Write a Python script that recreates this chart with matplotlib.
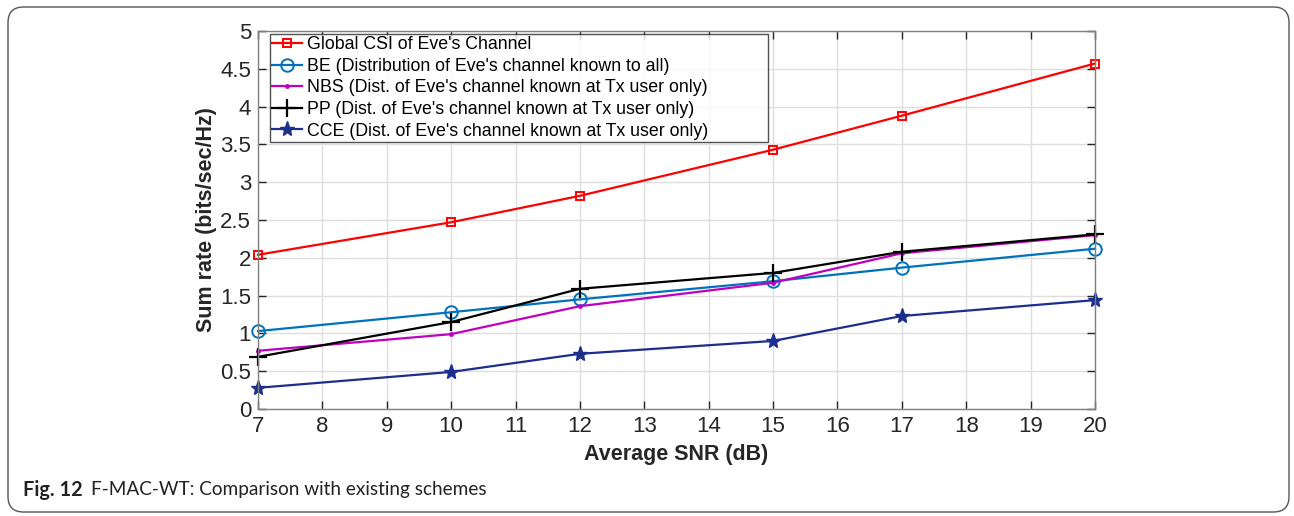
import matplotlib.pyplot as plt
from matplotlib.patches import FancyBboxPatch

# SNR points and sum rate of each scheme
snr = [7, 10, 12, 15, 17, 20]
global_csi = [2.04, 2.47, 2.82, 3.43, 3.88, 4.57]
be = [1.03, 1.28, 1.45, 1.69, 1.87, 2.12]
nbs = [0.77, 0.99, 1.36, 1.67, 2.06, 2.30]
pp = [0.69, 1.15, 1.59, 1.80, 2.08, 2.31]
cce = [0.28, 0.49, 0.73, 0.90, 1.23, 1.44]

labels = ["Global CSI of Eve's Channel",
          "BE (Distribution of Eve's channel known to all)",
          "NBS (Dist. of Eve's channel known at Tx user only)",
          "PP (Dist. of Eve's channel known at Tx user only)",
          "CCE (Dist. of Eve's channel known at Tx user only)"]

plt.rcParams['font.family'] = ['Liberation Sans', 'DejaVu Sans']

fig = plt.figure(figsize=(12.94, 5.16), dpi=100)
ax = fig.add_axes([0.1994, 0.2074, 0.6468, 0.7325])

kw = dict(lw=1.6, clip_on=False)
ax.plot(snr, global_csi, color='#FF0000', marker='s', ms=6,
        mfc='none', mew=1.4, label=labels[0], **kw)
ax.plot(snr, be, color='#0072BD', marker='o', ms=9,
        mfc='none', mew=1.4, label=labels[1], **kw)
ax.plot(snr, nbs, color='#C000C0', marker='.', ms=5,
        label=labels[2], **kw)
ax.plot(snr, pp, color='black', marker='+', ms=13,
        mew=1.6, label=labels[3], **kw)
ax.plot(snr, cce, color='#1C2E8E', marker='*', ms=11,
        label=labels[4], **kw)

ax.set_xlim(7, 20)
ax.set_ylim(0, 5)
ax.set_xticks(range(7, 21))
ax.set_yticks([0, 0.5, 1, 1.5, 2, 2.5, 3, 3.5, 4, 4.5, 5])
ax.set_yticklabels(['0', '0.5', '1', '1.5', '2', '2.5', '3', '3.5', '4', '4.5', '5'])
ax.grid(True, color='#DEDEDE', lw=1.0)
ax.set_axisbelow(True)
ax.tick_params(direction='in', length=6, width=1, colors='#262626',
               labelsize=16, top=True, right=True, pad=5)
for s in ax.spines.values():
    s.set_color('#808080')
    s.set_linewidth(1.0)

ax.set_xlabel('Average SNR (dB)', fontsize=15.5, fontweight='bold',
              color='#262626', labelpad=5)
ax.set_ylabel('Sum rate (bits/sec/Hz)', fontsize=15.5, fontweight='bold',
              color='#262626', labelpad=2)

# legend box stretched wider than its text, MATLAB style
leg = ax.legend(loc='upper left', fontsize=12.8, frameon=True, fancybox=False,
                edgecolor='#262626', borderpad=0.12, labelspacing=0.26,
                handlelength=1.7, handletextpad=0.25, borderaxespad=0,
                mode='expand',
                bbox_to_anchor=(12 / 837, 0.5, 498 / 837, 0.5 - 3 / 378))
leg.get_frame().set_linewidth(1.0)

# rounded frame around figure and caption
frame = FancyBboxPatch((8 / 1294, 4 / 516), 1281 / 1294, 505 / 516,
                       boxstyle='round,pad=0,rounding_size=0.012',
                       transform=fig.transFigure, fill=False,
                       edgecolor='#555555', lw=1.0, mutation_aspect=2.5)
fig.patches.append(frame)

fig.text(23 / 1294, 1 - 490 / 516, 'Fig. 12', fontsize=14.3, fontweight='bold',
         family=['Lato'], va='center', color='#222222')
fig.text(91 / 1294, 1 - 490 / 516, 'F-MAC-WT: Comparison with existing schemes',
         fontsize=13.7, family=['Lato'], va='center', color='#222222')

fig.savefig('out.png', dpi=100)
